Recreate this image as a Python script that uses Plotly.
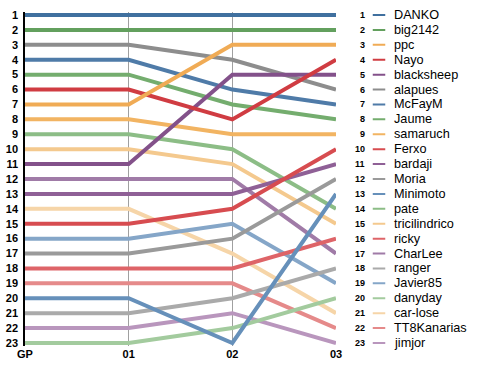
import plotly.graph_objects as go

rounds = ["GP", "01", "02", "03"]
players = ["DANKO", "big2142", "ppc", "Nayo", "blacksheep", "alapues", "McFayM",
           "Jaume", "samaruch", "Ferxo", "bardaji", "Moria", "Minimoto", "pate",
           "tricilindrico", "ricky", "CharLee", "ranger", "Javier85", "danyday",
           "car-lose", "TT8Kanarias", "jimjor"]
rank_gp = [1, 2, 7, 6, 11, 3, 4, 5, 8, 15, 13, 17, 20, 9, 10, 18, 12, 21, 16, 23, 14, 19, 22]
rank_01 = [1, 2, 7, 6, 11, 3, 4, 5, 8, 15, 13, 17, 20, 9, 10, 18, 12, 21, 16, 23, 14, 19, 22]
rank_02 = [1, 2, 3, 8, 5, 4, 6, 7, 9, 14, 13, 16, 23, 10, 11, 18, 12, 20, 15, 22, 17, 19, 21]
rank_03 = [1, 2, 3, 4, 5, 6, 7, 8, 9, 10, 11, 12, 13, 14, 15, 16, 17, 18, 19, 20, 21, 22, 23]
rank_ticks = list(range(1, 24))

colors = ["#40709f", "#63a05e", "#f0ab55", "#d03c42", "#83518a", "#8d8d8d",
          "#4f7ba8", "#74ad6e", "#f2b462", "#d74c50", "#8f6096", "#9a9a9a",
          "#6690ba", "#8cbd86", "#f4c98e", "#de6468", "#a07ba7", "#aaaaaa",
          "#85a6c8", "#a3cb9e", "#f6d5a8", "#e58a8a", "#b996bd"]

W, H = 478, 367
x_left, x_right = 25, 336
y_r1, y_r23 = 15, 343
y_top_px, y_bot_px = 12, 346
sp = (y_r23 - y_r1) / 22
y_lo = 1 - (y_r1 - y_top_px) / sp
y_hi = 23 + (y_bot_px - y_r23) / sp

fig = go.Figure()
xs = list(range(len(rounds)))
for i in reversed(range(len(players))):
    ys = [rank_gp[i], rank_01[i], rank_02[i], rank_03[i]]
    fig.add_trace(go.Scatter(x=xs, y=ys, mode="lines",
                             line=dict(color=colors[i], width=4),
                             hoverinfo="skip", showlegend=False,
                             xaxis="x", yaxis="y"))
    # legend segment
    fig.add_trace(go.Scatter(x=[0, 1], y=[rank_03[i], rank_03[i]], mode="lines",
                             line=dict(color=colors[i], width=2),
                             hoverinfo="skip", showlegend=False,
                             xaxis="x2", yaxis="y", cliponaxis=False))

for i, name in enumerate(players):
    fig.add_annotation(x=0, y=rank_03[i], xref="x2", yref="y", text="<b>%d</b>" % rank_03[i],
                       showarrow=False, xanchor="right", yanchor="middle", xshift=-6,
                       font=dict(family="Liberation Sans, Arial", size=9, color="#000"))
    fig.add_annotation(x=1, y=rank_03[i], xref="x2", yref="y", text=name,
                       showarrow=False, xanchor="left", yanchor="middle", xshift=6,
                       font=dict(family="Liberation Sans, Arial", size=12.7, color="#000"))

fig.update_layout(
    width=W, height=H,
    margin=dict(l=0, r=0, t=0, b=0),
    plot_bgcolor="white", paper_bgcolor="white",
    xaxis=dict(domain=[x_left / W, x_right / W], range=[0, 3],
               tickvals=xs, ticktext=["<b>%s</b>" % r for r in rounds],
               tickfont=dict(family="Liberation Sans, Arial", size=11, color="#000"),
               showgrid=True, gridcolor="#a0a0a0", gridwidth=1, automargin=False,
               zeroline=False, showline=False, ticks="", fixedrange=True),
    xaxis2=dict(domain=[372.5 / W, 385.5 / W], range=[0, 1], anchor="y",
                automargin=False,
                showgrid=False, zeroline=False, showticklabels=False, showline=False),
    yaxis=dict(domain=[1 - y_bot_px / H, 1 - y_top_px / H], range=[y_hi, y_lo],
               tickvals=rank_ticks, ticktext=["<b>%d</b>" % r for r in rank_ticks],
               tickfont=dict(family="Liberation Sans, Arial", size=11, color="#000"),
               showgrid=False, zeroline=False, showline=True, linecolor="#000",
               linewidth=1.5, ticks="", fixedrange=True, automargin=False,
               ticklabelstandoff=3),
)

fig.write_html("out.html", config={"displayModeBar": False},
               post_script="document.body.style.margin='0';document.body.style.padding='0';")
